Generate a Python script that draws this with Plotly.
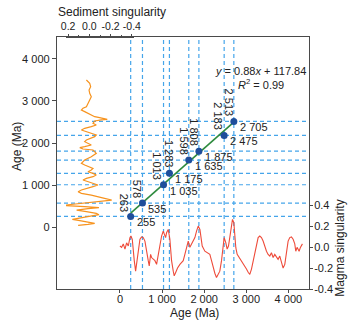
import plotly.graph_objects as go

# paired ages (Ma): magma peaks (x) vs sediment peaks (y)
magma_age = [255, 535, 1035, 1175, 1635, 1875, 2475, 2705]
sed_age = [263, 578, 1013, 1283, 1598, 1808, 2183, 2513]
fit_slope, fit_icpt = 0.88, 117.84

# magma singularity curve (age, value)
magma_t = [0, 40, 79, 119, 158, 198, 237, 261, 293, 316, 340, 372, 396, 419, 451, 475, 514, 554,
           593, 633, 672, 696, 728, 751, 791, 831, 870, 910, 949, 989, 1028, 1068, 1084, 1107,
           1147, 1186, 1226, 1266, 1289, 1321, 1368, 1424, 1463, 1503, 1542, 1582, 1622, 1661,
           1701, 1740, 1780, 1819, 1859, 1899, 1922, 1954, 2017, 2096, 2135, 2175, 2214, 2254,
           2293, 2333, 2372, 2412, 2451, 2475, 2515, 2546, 2578, 2610, 2649, 2673, 2705, 2728,
           2752, 2784, 2831, 2886, 2926, 2965, 3005, 3045, 3084, 3124, 3163, 3203, 3242, 3282,
           3321, 3361, 3400, 3440, 3480, 3519, 3559, 3598, 3638, 3677, 3717, 3756, 3796, 3836,
           3875, 3915, 3954, 3994, 4033, 4073, 4113, 4152, 4176, 4207, 4255, 4286, 4334]
magma_val = [0.01, -0.003, 0.03, -0.02, 0.04, 0.01, 0.09, 0.105, 0.074, -0.07, -0.13, -0.23, -0.165,
             -0.07, 0.03, 0.074, 0.096, 0.09, 0.057, -0.02, -0.13, -0.18, -0.07, -0.1, -0.117, -0.13,
             -0.165, -0.07, 0.03, 0.105, 0.152, 0.105, 0.09, 0.136, 0.168, 0.074, -0.13, -0.23,
             -0.275, -0.245, -0.2, -0.165, -0.15, -0.13, -0.07, -0.003, 0.057, -0.003, 0.03, 0.057,
             0.09, 0.152, 0.2, 0.168, 0.09, 0.01, -0.04, -0.06, -0.07, -0.13, -0.2, -0.25, -0.29,
             -0.26, -0.23, -0.13, 0.03, 0.09, 0.04, -0.02, 0.01, 0.105, 0.216, 0.263, 0.232, 0.12,
             -0.006, -0.07, -0.1, -0.13, -0.15, -0.18, -0.21, -0.24, -0.26, -0.21, -0.13, -0.07,
             0.03, 0.09, 0.105, 0.09, 0.057, -0.003, -0.04, -0.07, -0.086, -0.054, -0.1, -0.07, -0.1,
             -0.117, -0.086, -0.15, -0.2, -0.165, -0.04, 0.057, 0.09, 0.096, 0.074, 0.03, -0.04,
             -0.003, -0.04, -0.003, 0.03]

# sediment singularity curve (age, value)
sed_t = [3495, 3456, 3416, 3337, 3258, 3179, 3100, 3021, 2942, 2863, 2824, 2784, 2745, 2705, 2666,
         2626, 2603, 2587, 2563, 2548, 2524, 2469, 2429, 2390, 2350, 2311, 2271, 2232, 2192, 2153,
         2113, 2074, 2034, 1994, 1955, 1915, 1892, 1860, 1836, 1757, 1678, 1599, 1520, 1480, 1441,
         1401, 1362, 1322, 1283, 1243, 1204, 1164, 1125, 1085, 1046, 1006, 967, 927, 888, 848, 809,
         769, 730, 690, 651, 627, 596, 556, 525, 493, 469, 446, 414, 375, 335, 304, 272, 232, 193,
         161, 130, 98, 74, 51]
sed_val = [0.028, 0.013, -0.003, -0.012, 0.003, -0.003, -0.018, -0.003, 0.013, 0.028, 0.06, 0.075,
           0.044, 0.013, -0.018, -0.05, -0.096, -0.143, -0.168, -0.111, -0.05, -0.034, -0.065,
           -0.018, 0.044, 0.075, 0.028, -0.018, -0.065, -0.05, -0.003, 0.028, 0.044, 0.013, -0.018,
           0.044, 0.09, 0.06, -0.034, -0.065, -0.018, 0.044, 0.075, 0.044, -0.003, -0.034, -0.018,
           0.013, -0.034, -0.065, -0.034, 0.028, 0.06, 0.013, -0.05, -0.081, -0.034, 0.028, 0.075,
           0.106, 0.075, -0.018, -0.096, -0.143, -0.21, -0.111, 0.013, 0.16, 0.25, 0.044, -0.09,
           0.013, 0.12, 0.028, -0.065, -0.09, -0.018, 0.09, 0.16, 0.09, 0.013, -0.05, 0.013, 0.106]

age_ticks = [0, 1000, 2000, 3000, 4000]


def fmt(n):
    return '{:,}'.format(n).replace(',', ' ')


FONT = 'Liberation Sans, Arial, sans-serif'
TXT = '#222222'
LINE = '#4a4a4a'
DASH = '#45A5EA'

fig = go.Figure()

fig.add_trace(go.Scatter(x=sed_val, y=sed_t, xaxis='x3', yaxis='y', mode='lines',
                         line=dict(color='#F7931E', width=1.2), showlegend=False))
fig.add_trace(go.Scatter(x=magma_t, y=magma_val, xaxis='x', yaxis='y2', mode='lines',
                         line=dict(color='#EE4B3A', width=1.1), showlegend=False))

fit_x = [magma_age[0], magma_age[-1]]
fit_y = [fit_slope * v + fit_icpt for v in fit_x]
fig.add_trace(go.Scatter(x=fit_x, y=fit_y, mode='lines',
                         line=dict(color='#2E8B3E', width=1.6), showlegend=False))
fig.add_trace(go.Scatter(x=magma_age, y=sed_age, mode='markers',
                         marker=dict(color='#1F4E9B', size=7), showlegend=False))

for a in magma_age:
    fig.add_vline(x=a, line=dict(color=DASH, width=1.2, dash='4px,3px'), layer='below')
for a in sed_age:
    fig.add_hline(y=a, line=dict(color=DASH, width=1.2, dash='4px,3px'), layer='below')

rot_dx = [-7, -6, -6, -1, -5, -5, -7, -5]
for i, (xa, ya) in enumerate(zip(magma_age, sed_age)):
    fig.add_annotation(x=xa, y=ya, text=fmt(xa), showarrow=False, xanchor='left',
                       yanchor='middle', xshift=4, yshift=-6,
                       font=dict(size=11, color=TXT, family=FONT))
    fig.add_annotation(x=xa, y=ya, text=fmt(ya), showarrow=False, textangle=90,
                       xanchor='center', yanchor='bottom', xshift=rot_dx[i], yshift=3,
                       font=dict(size=11, color=TXT, family=FONT))

fig.add_annotation(x=3345, y=3700, text='<i>y</i> = 0.88<i>x</i> + 117.84', showarrow=False,
                   xanchor='center', yanchor='middle', font=dict(size=11, color=TXT, family=FONT))
fig.add_annotation(x=3345, y=3400, text='<i>R</i><sup>2</sup> = 0.99', showarrow=False,
                   xanchor='center', yanchor='middle', font=dict(size=11, color=TXT, family=FONT))

# axis titles
title_font = dict(size=12, color=TXT, family=FONT)
titles = [(0.218, 1.099, 'Sediment singularity', 0),
          (-0.159, 0.567, 'Age (Ma)', -90),
          (0.544, -0.095, 'Age (Ma)', 0),
          (1.122, 0.163, 'Magma singularity', -90)]
for tx, ty, txt, ang in titles:
    fig.add_annotation(xref='paper', yref='paper', x=tx, y=ty, text=txt, textangle=ang,
                       xanchor='center', yanchor='middle', showarrow=False, font=title_font)

tick_font = dict(size=11, color=TXT, family=FONT)
fig.update_layout(
    width=354, height=320,
    margin=dict(l=57, r=45, t=37, b=31),
    paper_bgcolor='white', plot_bgcolor='rgba(0,0,0,0)',
    font=dict(family=FONT, color=TXT),
    xaxis=dict(range=[-1495, 4490], tickvals=age_ticks, ticktext=[fmt(v) for v in age_ticks],
               ticks='outside', ticklen=3, tickcolor=LINE, showline=True, linecolor=LINE,
               linewidth=1.3, mirror=True, showgrid=False, zeroline=False, tickfont=tick_font,
               ticklabelstandoff=-3),
    yaxis=dict(range=[-1457, 4514], tickvals=age_ticks, ticktext=[fmt(v) for v in age_ticks],
               ticks='outside', ticklen=4, tickcolor=LINE, showline=True, linecolor=LINE,
               linewidth=1.3, mirror=True, showgrid=False, zeroline=False, tickfont=tick_font),
    yaxis2=dict(domain=[0, 0.333], range=[-0.4, 0.4], anchor='x', side='right',
                tickvals=[-0.4, -0.2, 0, 0.2, 0.4], ticktext=['-0.4', '-0.2', '0.0', '0.2', '0.4'],
                ticks='outside', ticklen=3, tickcolor=LINE, showline=False, showgrid=False,
                zeroline=False, tickfont=tick_font, ticklabelstandoff=-1),
    xaxis3=dict(domain=[0.0357, 0.3056], range=[0.22, -0.42], anchor='free', position=1,
                side='top', tickvals=[0.2, 0, -0.2, -0.4], ticktext=['0.2', '0.0', '-0.2', '-0.4'],
                ticks='outside', ticklen=3, tickcolor=LINE, showline=True, linecolor=LINE,
                linewidth=1, showgrid=False, zeroline=False,
                tickfont=dict(size=10.5, color=TXT, family=FONT),
                minor=dict(ticks='outside', ticklen=2, dtick=0.1, tick0=0, tickcolor=LINE)),
)

fig.write_html("out.html", config={'displayModeBar': False},
               post_script="document.body.style.margin='0';")
